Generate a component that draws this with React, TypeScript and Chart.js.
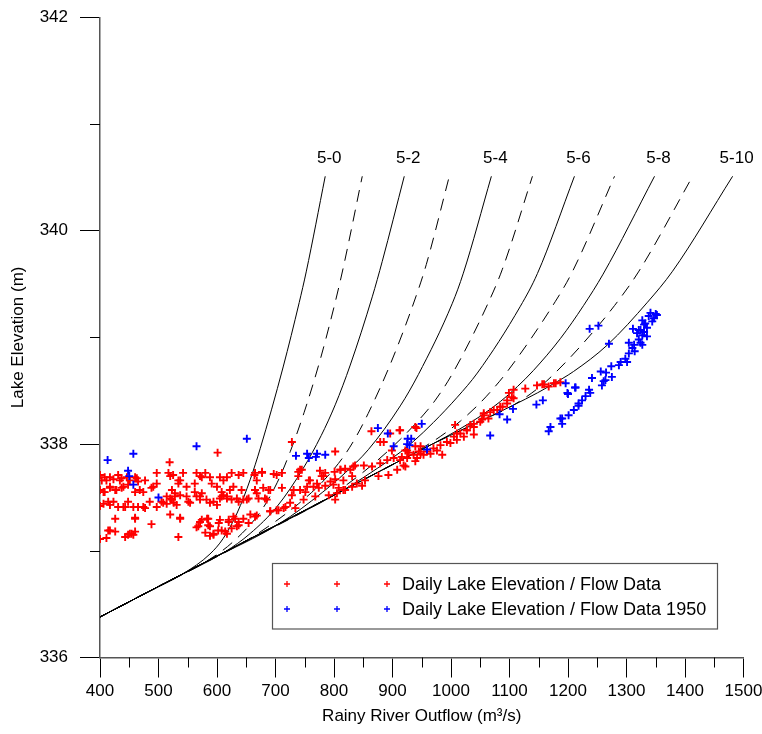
import React, { useEffect, useRef } from 'react';
import { Chart, registerables } from 'chart.js';

Chart.register(...registerables);

const FONT = "Arial, 'Liberation Sans', sans-serif";

// Axis ticks
const xTickValues = [400, 500, 600, 700, 800, 900, 1000, 1100, 1200, 1300, 1400, 1500];
const xMinorTickValues = [450, 550, 650, 750, 850, 950, 1050, 1150, 1250, 1350, 1450];
const yTickValues = [336, 338, 340, 342];
const yMinorTickValues = [337, 339, 341];

const xTitle = 'Rainy River Outflow (m³/s)';
const yTitle = 'Lake Elevation (m)';

// Rating curves: [outflow m3/s, lake elevation m]
const curveNames = ['5-0', '5-1', '5-2', '5-3', '5-4', '5-5', '5-6', '5-7', '5-8', '5-9', '5-10'];

const curve_5_0: [number, number][] = [
  [400, 336.38], [480, 336.608], [542, 336.785], [588, 336.97], [610.5, 337.115], [634.4, 337.354],
  [656.7, 337.666], [673.8, 337.957], [713.1, 338.723], [740.5, 339.326], [752.5, 339.614], [785, 340.51],
];
const curve_5_1: [number, number][] = [
  [400, 336.38], [500, 336.666], [579.7, 336.893], [627.6, 337.085], [673.8, 337.362], [702.8, 337.638],
  [725.1, 337.928], [749, 338.298], [776.4, 338.791], [802.1, 339.331], [815.8, 339.653], [848.3, 340.51],
];
const curve_5_2: [number, number][] = [
  [400, 336.38], [520, 336.723], [613.9, 336.991], [656.7, 337.162], [702.8, 337.416], [747.3, 337.772],
  [778.1, 338.08], [802.1, 338.368], [827.8, 338.741], [865.4, 339.38], [882.5, 339.713], [920.1, 340.51],
];
const curve_5_3: [number, number][] = [
  [400, 336.38], [540, 336.78], [648.1, 337.088], [699.4, 337.273], [738.8, 337.438], [779.8, 337.643],
  [814.1, 337.866], [836.3, 338.055], [858.5, 338.288], [896.2, 338.748], [940.7, 339.393], [957.8, 339.684],
  [997.1, 340.51],
];
const curve_5_4: [number, number][] = [
  [400, 336.38], [580, 336.894], [708, 337.259], [779.8, 337.546], [819.2, 337.731], [858.5, 337.947],
  [913.3, 338.358], [944.1, 338.651], [1002.3, 339.32], [1021.1, 339.602], [1069, 340.51],
];
const curve_5_5: [number, number][] = [
  [400, 336.38], [620, 337.008], [776.4, 337.455], [819.2, 337.609], [870.5, 337.83], [913.3, 338.044],
  [952.7, 338.273], [973.2, 338.412], [1002.3, 338.659], [1062.2, 339.306], [1087.8, 339.639], [1139.2, 340.51],
];
const curve_5_6: [number, number][] = [
  [400, 336.38], [650, 337.094], [810.6, 337.552], [862, 337.729], [913.3, 337.924], [935.5, 338.024],
  [969.8, 338.202], [1010.8, 338.44], [1045, 338.666], [1118.6, 339.292], [1147.7, 339.598], [1211, 340.51],
];
const curve_5_7: [number, number][] = [
  [400, 336.38], [650, 337.094], [810.6, 337.552], [913.3, 337.846], [930.4, 337.897], [981.7, 338.071],
  [1016, 338.215], [1045, 338.36], [1067.3, 338.489], [1096.4, 338.681], [1178.5, 339.338], [1207.6, 339.617],
  [1279.5, 340.51],
];
const curve_5_8: [number, number][] = [
  [400, 336.38], [650, 337.094], [810.6, 337.552], [913.3, 337.846], [969.8, 338.005], [1010.8, 338.128],
  [1050.2, 338.262], [1084.4, 338.399], [1113.5, 338.539], [1140.9, 338.69], [1187.1, 338.99],
  [1226.4, 339.297], [1260, 339.593], [1347.9, 340.51],
];
const curve_5_9: [number, number][] = [
  [400, 336.38], [650, 337.094], [810.6, 337.552], [913.3, 337.846], [969.8, 338.005], [1050.2, 338.215],
  [1106.6, 338.365], [1152.8, 338.541], [1178.5, 338.67], [1226.4, 338.948], [1279.5, 339.298],
  [1320.5, 339.614], [1413, 340.51],
];
const curve_5_10: [number, number][] = [
  [400, 336.38], [650, 337.094], [810.6, 337.552], [913.3, 337.846], [969.8, 338.005], [1050.2, 338.215],
  [1106.6, 338.365], [1147.7, 338.48], [1173.4, 338.56], [1209.3, 338.68], [1267.5, 338.93],
  [1335.9, 339.33], [1378.7, 339.62], [1481.4, 340.51],
];

const curves = [
  curve_5_0, curve_5_1, curve_5_2, curve_5_3, curve_5_4, curve_5_5,
  curve_5_6, curve_5_7, curve_5_8, curve_5_9, curve_5_10,
];

// Observations
const legendLabels = ['Daily Lake Elevation / Flow Data', 'Daily Lake Elevation / Flow Data 1950'];

const dailyData: [number, number][] = [
  [601, 337.92], [519, 337.83],
  [400, 337.71], [403, 337.66], [408, 337.69], [417, 337.69], [423, 337.67], [431, 337.71], [437, 337.68],
  [446, 337.69], [451, 337.66], [460, 337.69], [465, 337.65], [477, 337.66], [497, 337.73], [497, 337.63],
  [517, 337.73], [525, 337.71], [534, 337.66], [542, 337.73], [534, 337.63], [562, 337.63], [565, 337.73],
  [574, 337.69], [580, 337.73], [588, 337.69], [591, 337.63], [605, 337.69], [611, 337.66], [617, 337.69],
  [625, 337.73], [637, 337.71], [645, 337.73], [664, 337.71], [677, 337.73], [668, 337.66],
  [400, 337.57], [408, 337.55], [417, 337.59], [426, 337.57], [437, 337.59], [448, 337.62], [460, 337.55],
  [474, 337.55], [488, 337.59], [523, 337.57], [528, 337.54], [562, 337.55], [574, 337.54], [608, 337.55],
  [611, 337.52], [628, 337.6], [642, 337.57], [665, 337.57],
  [406, 337.44], [414, 337.46], [423, 337.46], [431, 337.41], [443, 337.41], [448, 337.46], [465, 337.41],
  [477, 337.4], [485, 337.46], [497, 337.41], [505, 337.46], [514, 337.44], [520, 337.49], [523, 337.48],
  [528, 337.51], [531, 337.43], [537, 337.52], [548, 337.51], [551, 337.46], [565, 337.51], [571, 337.51],
  [582, 337.48], [594, 337.46], [600, 337.43], [608, 337.51], [617, 337.49], [625, 337.48], [637, 337.46],
  [645, 337.48], [654, 337.49], [671, 337.49],
  [426, 337.3], [460, 337.3], [537, 337.3], [574, 337.29], [585, 337.3], [605, 337.29], [620, 337.29],
  [631, 337.3], [637, 337.27], [645, 337.3], [668, 337.33],
  [488, 337.25], [565, 337.22], [585, 337.24], [608, 337.19], [625, 337.21], [637, 337.24], [654, 337.26],
  [414, 337.19], [426, 337.18], [443, 337.13], [448, 337.15], [454, 337.16], [460, 337.18], [534, 337.13],
  [588, 337.14], [594, 337.16], [602, 337.19], [400, 337.11], [411, 337.12],
  [411, 337.66], [434, 337.66], [417, 337.6], [428, 337.57], [406, 337.55], [440, 337.6], [463, 337.68],
  [468, 337.57], [491, 337.6], [520, 337.7], [537, 337.66], [548, 337.6], [571, 337.7], [600, 337.6],
  [622, 337.57], [634, 337.49], [651, 337.48], [514, 337.51], [526, 337.45], [508, 337.45], [474, 337.41],
  [457, 337.41], [440, 337.41], [417, 337.43], [400, 337.42], [554, 337.45], [571, 337.48], [588, 337.45],
  [605, 337.49], [617, 337.51], [417, 337.19], [457, 337.15], [451, 337.16], [460, 337.31],
  [759, 337.66], [782, 337.7], [811, 337.76], [833, 337.79], [742, 337.76], [702, 337.71], [731, 337.57],
  [754, 337.6], [771, 337.63], [794, 337.65], [805, 337.54], [816, 337.57], [691, 337.57], [668, 337.54],
  [685, 337.48], [714, 337.4], [725, 337.45], [702, 337.38], [691, 337.37], [657, 337.34], [665, 337.32],
  [620, 337.27], [634, 337.23], [628, 337.32], [603, 337.26], [588, 337.23], [568, 337.23], [580, 337.17],
  [594, 337.15], [614, 337.18], [617, 337.16], [571, 337.27], [583, 337.3], [520, 337.34], [537, 337.31],
  [679, 337.59],
  [728, 338.02], [802, 337.93], [896, 338.1], [879, 338.02], [899, 337.94], [922, 337.94], [939, 337.98],
  [864, 338.12], [912, 338.13], [885, 338.02],
  [665, 337.73], [677, 337.74], [697, 337.72], [711, 337.73], [739, 337.74], [745, 337.76], [776, 337.75],
  [785, 337.73], [801, 337.74], [811, 337.76], [819, 337.77], [828, 337.76], [836, 337.8], [851, 337.8],
  [865, 337.79], [879, 337.82], [891, 337.85], [902, 337.87], [916, 337.88], [928, 337.92], [945, 337.93],
  [953, 337.9],
  [739, 337.7], [757, 337.66], [779, 337.7], [802, 337.67], [816, 337.66], [831, 337.7], [853, 337.66],
  [876, 337.7], [893, 337.71], [908, 337.76], [922, 337.79], [939, 337.84],
  [665, 337.57], [688, 337.57], [711, 337.59], [742, 337.57], [751, 337.55], [765, 337.6], [774, 337.59],
  [785, 337.61], [799, 337.62], [808, 337.59], [819, 337.57], [831, 337.6], [839, 337.63], [848, 337.61],
  [682, 337.49], [728, 337.52], [748, 337.48], [768, 337.51], [791, 337.52], [802, 337.48],
  [691, 337.37], [705, 337.38], [717, 337.41], [734, 337.4],
  [913, 338.13], [939, 338.16], [1007, 338.18],
  [913, 337.85], [925, 337.87], [936, 337.9], [948, 337.91], [959, 337.93], [970, 337.96], [982, 337.99],
  [993, 338.02], [1005, 338.07], [1016, 338.1], [1027, 338.13], [1033, 338.18], [1039, 338.16],
  [1050, 338.21], [1056, 338.27], [1067, 338.3], [1079, 338.32], [1084, 338.35], [1096, 338.38],
  [1107, 338.43], [1107, 338.51], [1099, 338.48], [1127, 338.52], [1147, 338.55], [1159, 338.56],
  [1167, 338.54], [1176, 338.57], [1187, 338.58],
  [985, 337.9], [1039, 338.09], [1053, 338.23], [1064, 338.24], [925, 337.94], [948, 337.98],
  [919, 337.8], [942, 337.87], [965, 337.91], [976, 337.94], [999, 338.01], [1010, 338.04], [1022, 338.07],
  [1156, 338.56], [1179, 338.57],
  [1073, 338.32], [1056, 338.29], [1039, 338.19], [1027, 338.13], [1010, 338.1], [1088, 338.35],
  [1096, 338.41], [1104, 338.44], [941, 338.15],
];

const dailyData1950: [number, number][] = [
  [651, 338.05], [565, 337.98], [457, 337.91], [413, 337.85], [448, 337.75], [450, 337.7], [457, 337.62],
  [500, 337.5],
  [735, 337.89], [754, 337.91], [757, 337.87], [771, 337.91], [769, 337.88], [785, 337.9],
  [875, 338.15], [892, 338.1], [902, 337.98], [926, 338.05], [929, 337.99], [950, 338.19],
  [925, 338.0], [932, 338.05], [959, 337.95], [1067, 338.08], [1096, 338.23], [1106, 338.33], [1083, 338.28],
  [1146, 338.37], [1157, 338.41], [1199, 338.48], [1196, 338.57], [1187, 338.24], [1170, 338.16],
  [1167, 338.12],
  [1190, 338.19], [1201, 338.27], [1210, 338.32], [1218, 338.36], [1224, 338.41], [1230, 338.45],
  [1236, 338.51], [1238, 338.48], [1200, 338.47], [1212, 338.53], [1241, 338.62], [1258, 338.55],
  [1264, 338.6], [1275, 338.63], [1265, 338.67], [1274, 338.73], [1287, 338.74], [1290, 338.77],
  [1301, 338.77], [1298, 338.8], [1304, 338.85], [1314, 338.87], [1310, 338.9], [1304, 338.95],
  [1313, 338.93], [1321, 338.98], [1324, 338.95], [1327, 339.02], [1330, 339.05], [1324, 339.07],
  [1335, 339.09], [1332, 339.13], [1327, 339.16], [1338, 339.2], [1341, 339.23], [1350, 339.22],
  [1347, 339.18], [1335, 339.01], [1321, 339.07], [1330, 339.12], [1344, 339.15], [1352, 339.21],
  [1311, 339.08], [1318, 339.04], [1327, 338.93], [1237, 339.08], [1252, 339.11], [1270, 338.94],
  [1256, 338.68], [1261, 338.59], [1218, 338.38], [1213, 338.53], [1190, 338.24],
];

const RED = '#ff0000';
const BLUE = '#0000ff';

const overlayPlugin = {
  id: 'overlay',
  afterDatasetsDraw(chart: any) {
    const { ctx } = chart;
    const xs = chart.scales.x;
    const ys = chart.scales.y;
    ctx.save();
    ctx.fillStyle = '#000';
    ctx.font = `17px ${FONT}`;
    ctx.textAlign = 'center';
    ctx.textBaseline = 'middle';
    curves.forEach((pts, i) => {
      if (i % 2 !== 0) return;
      const last = pts[pts.length - 1];
      const px = xs.getPixelForValue(last[0]);
      const py = ys.getPixelForValue(last[1]);
      ctx.fillText(curveNames[i], px + 4, py - 18);
    });
    ctx.restore();
  },
  afterDraw(chart: any) {
    const { ctx } = chart;
    const xs = chart.scales.x;
    const ys = chart.scales.y;
    ctx.save();
    ctx.strokeStyle = '#000';
    ctx.lineWidth = 1;
    xMinorTickValues.forEach((v) => {
      const px = Math.round(xs.getPixelForValue(v)) + 0.5;
      ctx.beginPath();
      ctx.moveTo(px, ys.bottom);
      ctx.lineTo(px, ys.bottom + 10);
      ctx.stroke();
    });
    yMinorTickValues.forEach((v) => {
      const py = Math.round(ys.getPixelForValue(v)) + 0.5;
      ctx.beginPath();
      ctx.moveTo(xs.left - 10, py);
      ctx.lineTo(xs.left, py);
      ctx.stroke();
    });

    // legend box
    const bx = 272.5, by = 563.5, bw = 445, bh = 65.5;
    ctx.fillStyle = '#fff';
    ctx.fillRect(bx, by, bw, bh);
    ctx.strokeStyle = '#555';
    ctx.lineWidth = 1.2;
    ctx.strokeRect(bx, by, bw, bh);
    const rows = [
      { y: 584, color: RED, text: legendLabels[0] },
      { y: 609, color: BLUE, text: legendLabels[1] },
    ];
    rows.forEach((r) => {
      ctx.strokeStyle = r.color;
      ctx.lineWidth = 1.3;
      [287, 337, 387].forEach((mx) => {
        ctx.beginPath();
        ctx.moveTo(mx - 3, r.y);
        ctx.lineTo(mx + 3, r.y);
        ctx.moveTo(mx, r.y - 3);
        ctx.lineTo(mx, r.y + 3);
        ctx.stroke();
      });
      ctx.fillStyle = '#000';
      ctx.font = `18px ${FONT}`;
      ctx.textAlign = 'left';
      ctx.textBaseline = 'middle';
      ctx.fillText(r.text, 402, r.y + 1);
    });
    ctx.restore();
  },
};

export default function App() {
  const canvasRef = useRef<HTMLCanvasElement | null>(null);

  useEffect(() => {
    const canvas = canvasRef.current;
    if (!canvas) return;

    const lineDatasets = curves.map((pts, i) => ({
      label: curveNames[i],
      data: pts.map(([x, y]) => ({ x, y })),
      showLine: true,
      pointRadius: 0,
      borderColor: '#000',
      backgroundColor: '#000',
      borderWidth: 1,
      borderDash: i % 2 === 1 ? [12, 8] : [],
      cubicInterpolationMode: 'monotone' as const,
      fill: false,
      order: 10,
    }));

    const chart = new Chart(canvas, {
      type: 'scatter',
      data: {
        datasets: [
          ...lineDatasets,
          {
            label: legendLabels[0],
            data: dailyData.map(([x, y]) => ({ x, y })),
            pointStyle: 'cross',
            pointRadius: 4,
            borderColor: RED,
            backgroundColor: RED,
            borderWidth: 1.9,
            showLine: false,
            order: 2,
          },
          {
            label: legendLabels[1],
            data: dailyData1950.map(([x, y]) => ({ x, y })),
            pointStyle: 'cross',
            pointRadius: 4,
            borderColor: BLUE,
            backgroundColor: BLUE,
            borderWidth: 1.9,
            showLine: false,
            order: 1,
          },
        ] as any,
      },
      options: {
        responsive: false,
        animation: false,
        events: [],
        layout: { padding: { top: 17.3, right: 18.5, bottom: 0, left: 0 } },
        plugins: {
          legend: { display: false },
          tooltip: { enabled: false },
        },
        scales: {
          x: {
            type: 'linear',
            position: 'bottom',
            min: 400,
            max: 1500,
            afterBuildTicks: (s: any) => {
              s.ticks = xTickValues.map((v) => ({ value: v }));
            },
            afterFit: (s: any) => {
              s.height = 76.5;
              s.paddingLeft = 0;
              s.paddingRight = 0;
            },
            ticks: {
              autoSkip: false,
              maxRotation: 0,
              padding: 4,
              color: '#000',
              font: { size: 17, family: FONT },
              callback: (v: any) => String(v),
            },
            grid: {
              display: true,
              drawOnChartArea: false,
              drawTicks: true,
              tickLength: 20,
              color: '#000',
              lineWidth: 1,
            },
            border: { display: true, color: '#555', width: 1.5 },
            title: {
              display: true,
              text: xTitle,
              color: '#000',
              font: { size: 17, family: FONT },
              padding: { top: 0, bottom: 7 },
            },
          },
          y: {
            type: 'linear',
            position: 'left',
            min: 336,
            max: 342,
            afterBuildTicks: (s: any) => {
              s.ticks = yTickValues.map((v) => ({ value: v }));
            },
            afterFit: (s: any) => {
              s.width = 100;
              s.paddingTop = 0;
              s.paddingBottom = 0;
            },
            ticks: {
              padding: 12,
              color: '#000',
              font: { size: 17, family: FONT },
              callback: (v: any) => String(v),
            },
            grid: {
              display: true,
              drawOnChartArea: false,
              drawTicks: true,
              tickLength: 20,
              color: '#000',
              lineWidth: 1,
            },
            border: { display: true, color: '#555', width: 1.5 },
            title: {
              display: true,
              text: yTitle,
              color: '#000',
              font: { size: 17, family: FONT },
              padding: { top: 8, bottom: 0 },
            },
          },
        },
      } as any,
      plugins: [overlayPlugin],
    });

    return () => {
      chart.destroy();
    };
  }, []);

  return (
    <div style={{ position: 'fixed', left: 0, top: 0, width: 762, height: 734, background: '#fff' }}>
      <canvas ref={canvasRef} width={762} height={734} style={{ display: 'block' }} />
    </div>
  );
}
